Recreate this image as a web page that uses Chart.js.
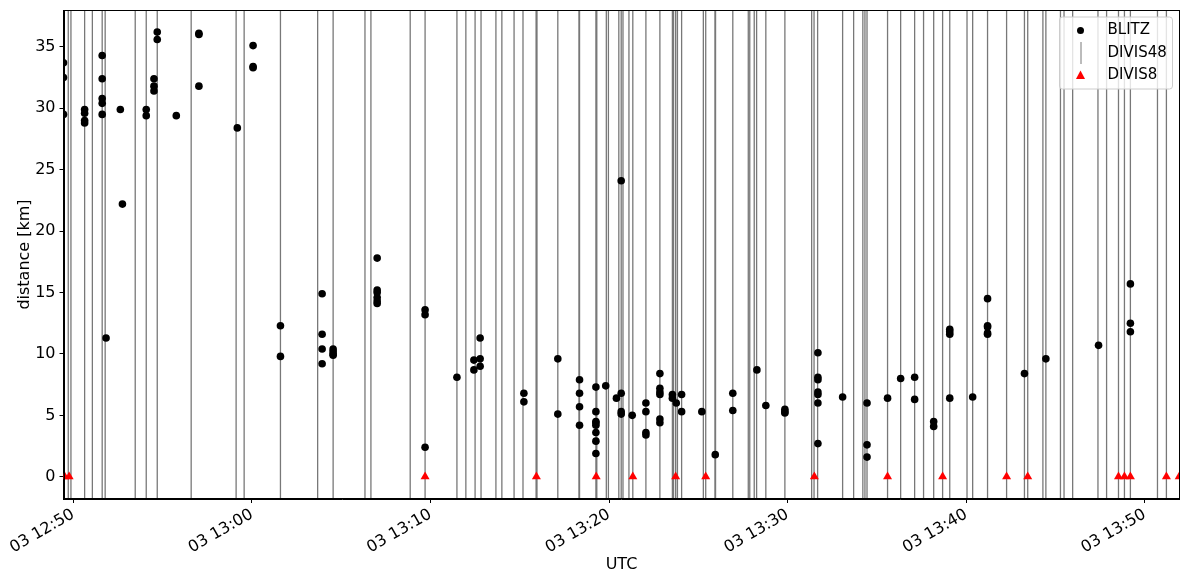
<!DOCTYPE html>
<html>
<head>
<meta charset="utf-8">
<script src="https://cdn.jsdelivr.net/npm/chart.js@4/dist/chart.umd.min.js"></script>
<style>
  html, body { margin: 0; padding: 0; background: #fff; }
  #wrap { width: 1190px; height: 579px; }
</style>
</head>
<body>
<div id="wrap"><canvas id="chart" width="1190" height="579"></canvas></div>
<script>
// BLITZ strokes: time (UTC) and distance in km
const blitzTimes = [
  "12:49:27", "12:49:27", "12:49:27",
  "12:50:38", "12:50:38", "12:50:38", "12:50:38",
  "12:51:37", "12:51:37", "12:51:37", "12:51:37", "12:51:37",
  "12:51:50",
  "12:52:38",
  "12:52:45",
  "12:54:05", "12:54:05",
  "12:54:31", "12:54:31", "12:54:31",
  "12:54:42", "12:54:42",
  "12:55:46",
  "12:57:02", "12:57:02", "12:57:02",
  "12:59:11",
  "13:00:04", "13:00:04", "13:00:04",
  "13:01:36", "13:01:36",
  "13:03:56", "13:03:56", "13:03:56", "13:03:56",
  "13:04:33", "13:04:33", "13:04:33", "13:04:33",
  "13:07:01", "13:07:01", "13:07:01", "13:07:01", "13:07:01", "13:07:01",
  "13:09:42", "13:09:42", "13:09:42",
  "13:11:29",
  "13:12:26", "13:12:26",
  "13:12:47", "13:12:47", "13:12:47",
  "13:15:14", "13:15:14",
  "13:17:08", "13:17:08",
  "13:18:21", "13:18:21", "13:18:21", "13:18:21",
  "13:19:16", "13:19:16", "13:19:16", "13:19:16", "13:19:16", "13:19:16", "13:19:16", "13:19:16",
  "13:19:49",
  "13:20:25",
  "13:20:41", "13:20:41", "13:20:41", "13:20:41",
  "13:21:18",
  "13:22:04", "13:22:04", "13:22:04", "13:22:04",
  "13:22:51", "13:22:51", "13:22:51", "13:22:51", "13:22:51", "13:22:51",
  "13:23:33", "13:23:33",
  "13:23:46",
  "13:24:04", "13:24:04",
  "13:25:12",
  "13:25:57",
  "13:26:56", "13:26:56",
  "13:28:17",
  "13:28:47",
  "13:29:51", "13:29:51", "13:29:51",
  "13:31:42", "13:31:42", "13:31:42", "13:31:42", "13:31:42", "13:31:42", "13:31:42",
  "13:33:05",
  "13:34:27", "13:34:27", "13:34:27",
  "13:35:36",
  "13:36:20",
  "13:37:07", "13:37:07",
  "13:38:11", "13:38:11",
  "13:39:05", "13:39:05", "13:39:05", "13:39:05",
  "13:40:22",
  "13:41:12", "13:41:12", "13:41:12", "13:41:12", "13:41:12",
  "13:43:16",
  "13:44:28",
  "13:47:25",
  "13:49:12", "13:49:12", "13:49:12"
];
const blitzDist = [
  33.7, 32.5, 29.5,
  29.9, 29.6, 29.0, 28.8,
  34.3, 32.4, 30.8, 30.4, 29.5,
  11.3,
  29.9,
  22.2,
  29.9, 29.4,
  32.4, 31.8, 31.4,
  36.2, 35.6,
  29.4,
  36.1, 36.0, 31.8,
  28.4,
  35.1, 33.4, 33.3,
  12.3, 9.8,
  14.9, 11.6, 10.4, 9.2,
  10.4, 10.2, 10.0, 9.9,
  17.8, 15.2, 15.0, 14.6, 14.3, 14.1,
  13.6, 13.2, 2.4,
  8.1,
  9.5, 8.7,
  11.3, 9.6, 9.0,
  6.8, 6.1,
  9.6, 5.1,
  7.9, 6.8, 5.7, 4.2,
  7.3, 5.3, 4.5, 4.4, 4.2, 3.6, 2.9, 1.9,
  7.4,
  6.4,
  24.1, 6.8, 5.3, 5.1,
  5.0,
  6.0, 5.3, 3.6, 3.4,
  8.4, 7.2, 6.9, 6.7, 4.7, 4.4,
  6.7, 6.4,
  6.0,
  6.7, 5.3,
  5.3,
  1.8,
  6.8, 5.4,
  8.7,
  5.8,
  5.5, 5.3, 5.2,
  10.1, 8.1, 7.9, 6.9, 6.7, 6.0, 2.7,
  6.5,
  6.0, 2.6, 1.6,
  6.4,
  8.0,
  8.1, 6.3,
  4.5, 4.1,
  12.0, 11.8, 11.6, 6.4,
  6.5,
  14.5, 12.3, 12.2, 11.7, 11.6,
  8.4,
  9.6,
  10.7,
  15.7, 12.5, 11.8
];

// DIVIS48 detections (vertical lines)
const divis48Times = [
  "12:49:43", "12:49:52", "12:50:38", "12:51:04", "12:51:37", "12:51:47",
  "12:53:28", "12:54:05", "12:54:42", "12:56:36", "12:59:07", "12:59:34",
  "13:01:36", "13:03:41", "13:04:33", "13:06:20", "13:06:40", "13:08:52",
  "13:09:42", "13:11:29", "13:11:59", "13:12:30", "13:12:50", "13:13:40",
  "13:14:00", "13:14:41", "13:15:11", "13:15:55", "13:15:58", "13:17:08",
  "13:18:19", "13:18:21", "13:19:16", "13:19:19", "13:19:51", "13:19:58",
  "13:20:33", "13:20:41", "13:20:47", "13:21:07", "13:21:20", "13:22:04",
  "13:22:51", "13:23:33", "13:23:37", "13:23:44", "13:23:50", "13:24:04",
  "13:25:17", "13:25:25", "13:25:56", "13:25:58", "13:26:56", "13:27:48",
  "13:27:53", "13:28:08", "13:28:16", "13:28:47", "13:29:51", "13:31:21",
  "13:31:29", "13:31:41", "13:33:05", "13:33:42", "13:34:13", "13:34:20",
  "13:34:27", "13:35:36", "13:36:20", "13:37:07", "13:37:37", "13:38:11",
  "13:38:41", "13:39:05", "13:40:03", "13:40:22", "13:41:12", "13:42:16",
  "13:43:16", "13:43:27", "13:44:18", "13:44:28", "13:45:17", "13:45:29",
  "13:45:58", "13:47:23", "13:47:52", "13:48:32", "13:48:52", "13:49:12",
  "13:50:43", "13:51:13"
];

// DIVIS8 detections (triangles at distance 0)
const divis8Times = [
  "12:49:31", "12:49:46", "13:09:42", "13:15:56", "13:19:17", "13:21:20",
  "13:23:44", "13:25:25", "13:31:30", "13:35:36", "13:38:41", "13:42:16",
  "13:43:27", "13:48:32", "13:48:52", "13:49:12", "13:51:13", "13:51:56"
];

const xTickTimes = ["12:50:00", "13:00:00", "13:10:00", "13:20:00", "13:30:00", "13:40:00", "13:50:00"];
const xTickLabels = ["03 12:50", "03 13:00", "03 13:10", "03 13:20", "03 13:30", "03 13:40", "03 13:50"];
const yTickValues = [0, 5, 10, 15, 20, 25, 30, 35];

const X_START = "12:49:27";
const X_END = "13:51:57";
const Y_MIN = -1.81;
const Y_MAX = 38.0;

// minutes after 12:00
function toMin(t) {
  const [h, m, s] = t.split(":").map(Number);
  return (h - 12) * 60 + m + s / 60;
}

const tickFont = { family: "DejaVu Sans", size: 16 };

const blitzData = blitzTimes.map((t, i) => ({ x: toMin(t), y: blitzDist[i] }));
const divis8Data = divis8Times.map((t) => ({ x: toMin(t), y: 0 }));
const divis48Data = [];
divis48Times.forEach((t) => {
  const x = toMin(t);
  divis48Data.push({ x, y: Y_MIN }, { x, y: Y_MAX }, { x, y: null });
});

const framePlugin = {
  id: "frameAndLegend",
  afterDraw(chart) {
    const ctx = chart.ctx;
    const a = chart.chartArea;
    ctx.save();
    ctx.strokeStyle = "#000";
    ctx.lineWidth = 1;
    ctx.strokeRect(Math.round(a.left) + 0.5, Math.round(a.top) + 0.5,
      Math.round(a.right - a.left) - 1, Math.round(a.bottom - a.top) - 1);

    // legend box, upper right like matplotlib
    const bw = 113, bh = 72;
    const bx = a.right - 7 - bw, by = a.top + 7;
    ctx.beginPath();
    ctx.roundRect(bx, by, bw, bh, 3);
    ctx.fillStyle = "rgba(255,255,255,0.8)";
    ctx.fill();
    ctx.strokeStyle = "#cccccc";
    ctx.stroke();

    const mx = bx + 21, tx = bx + 48;
    const rows = [by + 13.5, by + 36, by + 58.5];
    ctx.font = "15px 'DejaVu Sans'";
    ctx.textBaseline = "middle";
    ctx.textAlign = "left";
    const ds = chart.data.datasets;

    // BLITZ
    ctx.beginPath();
    ctx.arc(mx, rows[0], 3.5, 0, Math.PI * 2);
    ctx.fillStyle = ds[0].backgroundColor;
    ctx.fill();
    // DIVIS48
    ctx.beginPath();
    ctx.moveTo(mx + 0.5, rows[1] - 11);
    ctx.lineTo(mx + 0.5, rows[1] + 11);
    ctx.strokeStyle = ds[2].borderColor;
    ctx.lineWidth = 1;
    ctx.stroke();
    // DIVIS8
    ctx.beginPath();
    ctx.moveTo(mx, rows[2] - 5);
    ctx.lineTo(mx + 4.5, rows[2] + 3.5);
    ctx.lineTo(mx - 4.5, rows[2] + 3.5);
    ctx.closePath();
    ctx.fillStyle = ds[1].backgroundColor;
    ctx.fill();

    ctx.fillStyle = "#000";
    ctx.fillText(ds[0].label, tx, rows[0]);
    ctx.fillText(ds[2].label, tx, rows[1]);
    ctx.fillText(ds[1].label, tx, rows[2]);
    ctx.restore();
  },
};

new Chart(document.getElementById("chart"), {
  type: "scatter",
  data: {
    datasets: [
      {
        label: "BLITZ",
        data: blitzData,
        pointStyle: "circle",
        pointRadius: 3.8,
        backgroundColor: "#000000",
        borderWidth: 0,
        clip: 0,
        order: 2,
      },
      {
        label: "DIVIS8",
        data: divis8Data,
        pointStyle: "triangle",
        pointRadius: 5.2,
        backgroundColor: "#ff0000",
        borderWidth: 0,
        clip: 0,
        order: 1,
      },
      {
        label: "DIVIS48",
        data: divis48Data,
        showLine: true,
        spanGaps: false,
        pointRadius: 0,
        borderColor: "#787878",
        borderWidth: 1.3,
        clip: 0,
        order: 3,
      },
    ],
  },
  options: {
    responsive: false,
    animation: false,
    layout: { padding: { top: 10, right: 10.5, left: 0, bottom: 0 } },
    plugins: {
      legend: { display: false },
      tooltip: { enabled: false },
    },
    scales: {
      x: {
        type: "linear",
        min: toMin(X_START),
        max: toMin(X_END),
        afterFit: (s) => { s.height = 80; },
        afterBuildTicks: (s) => { s.ticks = xTickTimes.map((t) => ({ value: toMin(t) })); },
        ticks: {
          callback: (v, i) => xTickLabels[i],
          minRotation: 30,
          maxRotation: 30,
          autoSkip: false,
          color: "#000",
          font: tickFont,
          padding: 2,
        },
        grid: { drawOnChartArea: false, tickLength: 4, color: "#000" },
        border: { color: "#000" },
        title: { display: true, text: "UTC", color: "#000", font: tickFont, padding: { top: 0, bottom: 4.4 } },
      },
      y: {
        min: Y_MIN,
        max: Y_MAX,
        afterFit: (s) => {
          s.width = 63.5;
          // the 35 label is well below the top, no extra room needed
          s.paddingTop = 0;
          s.paddingBottom = 0;
        },
        afterBuildTicks: (s) => { s.ticks = yTickValues.map((v) => ({ value: v })); },
        ticks: { color: "#000", font: tickFont, padding: 4 },
        grid: { drawOnChartArea: false, tickLength: 4, color: "#000" },
        border: { color: "#000" },
        title: { display: true, text: "distance [km]", color: "#000", font: tickFont, padding: { top: 15.4, bottom: 0 } },
      },
    },
  },
  plugins: [framePlugin],
});
</script>
</body>
</html>
